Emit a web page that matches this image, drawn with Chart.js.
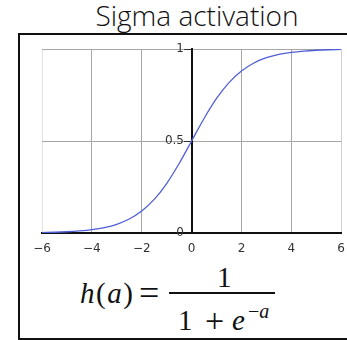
<!DOCTYPE html>
<html>
<head>
<meta charset="utf-8">
<script src="https://cdn.jsdelivr.net/npm/chart.js@4/dist/chart.umd.min.js"></script>
<style>
  body { margin: 0; background: #fff; width: 347px; height: 340px; overflow: hidden; position: relative; }
  #title { position: absolute; left: 0; top: -1px; width: 394px; text-align: center;
           font-family: "Open Sans", sans-serif; font-weight: 300; font-size: 28px; line-height: 32px; color: #111; }
  #frame { position: absolute; left: 18px; top: 33px; width: 360px; height: 303px; border: 2px solid #111; }
  #plot { position: absolute; left: 20px; top: 35px; width: 334px; height: 225px; }
  .f { position: absolute; font-family: "Liberation Serif", serif; font-size: 29px; color: #111; white-space: nowrap; line-height: 1; }
  .f i { font-style: italic; }
  #bar { position: absolute; left: 169px; top: 292px; width: 106px; height: 2px; background: #111; }
</style>
</head>
<body>
<div id="title">Sigma activation</div>
<div id="frame"></div>
<div id="plot"><canvas id="myChart"></canvas></div>
<!-- h(a) = 1 / (1 + e^-a) -->
<div class="f" style="left:80px; top:279px; letter-spacing:1.5px;"><i>h</i>(<i>a</i>)</div>
<div class="f" style="left:139px; top:275px; font-size:36px;">=</div>
<div class="f" style="left:217px; top:263px;">1</div>
<div id="bar"></div>
<div class="f" style="left:178px; top:306px;">1</div>
<div class="f" style="left:205px; top:304px; font-size:34px;">+</div>
<div class="f" style="left:232px; top:306px;"><i>e</i></div>
<div class="f" style="left:248px; top:301px; font-size:20px;">−<i>a</i></div>
<script>
// sample points along the curve
const inputs = [-6, -5.5, -5, -4.5, -4, -3.5, -3, -2.5, -2, -1.5, -1, -0.5, 0,
                0.5, 1, 1.5, 2, 2.5, 3, 3.5, 4, 4.5, 5, 5.5, 6];
const outputs = [0.0025, 0.0041, 0.0067, 0.011, 0.018, 0.0293, 0.0474, 0.0759, 0.1192, 0.1824, 0.2689, 0.3775, 0.5,
                 0.6225, 0.7311, 0.8176, 0.8808, 0.9241, 0.9526, 0.9707, 0.982, 0.989, 0.9933, 0.9959, 0.9975];
const xTicks = [-6, -4, -2, 0, 2, 4, 6];
const yTicks = [0, 0.5, 1];

let ctx = document.getElementById("myChart").getContext("2d");
let myChart = new Chart(ctx, {
    type: "line",
    data: {
        datasets: [{
            data: inputs.map((a, i) => ({x: a, y: outputs[i]})),
            borderColor: 'rgb(80, 95, 215)',
            borderWidth: 1.3,
            pointRadius: 0,
            cubicInterpolationMode: 'monotone',
            fill: false
        }]
    },
    options: {
        responsive: true,
        maintainAspectRatio: false,
        animation: false,
        layout: { padding: { left: 22, right: 0, top: 14, bottom: 0 } },
        plugins: { legend: { display: false }, tooltip: { enabled: false } },
        scales: {
            x: {
                type: 'linear',
                min: -6,
                max: 6,
                afterBuildTicks: (axis) => { axis.ticks = xTicks.map(v => ({value: v})); },
                afterFit: (axis) => { axis.height = 27; },
                border: { color: '#111', width: 2 },
                grid: {
                    color: (c) => c.tick && c.tick.value === -6 ? '#e2e2e2' : (c.tick && c.tick.value === 6 ? '#cfcfcf' : '#a6a6a6'),
                    drawTicks: false
                },
                ticks: {
                    padding: 9,
                    color: '#333',
                    font: { family: 'DejaVu Sans', size: 12 },
                    callback: (v) => String(v).replace('-', '\u2212')
                }
            },
            y: {
                type: 'linear',
                min: 0,
                max: 1,
                position: { x: 0 },
                afterBuildTicks: (axis) => { axis.ticks = yTicks.map(v => ({value: v})); },
                border: { color: '#111', width: 2 },
                grid: {
                    color: '#a6a6a6',
                    tickColor: '#333',
                    tickLength: 7
                },
                ticks: {
                    color: '#333',
                    font: { family: 'DejaVu Sans', size: 12 },
                    // labels sit left of the centred axis, clear of the tick marks
                    callback: (v) => String(v) + '  '
                }
            }
        }
    }
});
</script>
</body>
</html>
